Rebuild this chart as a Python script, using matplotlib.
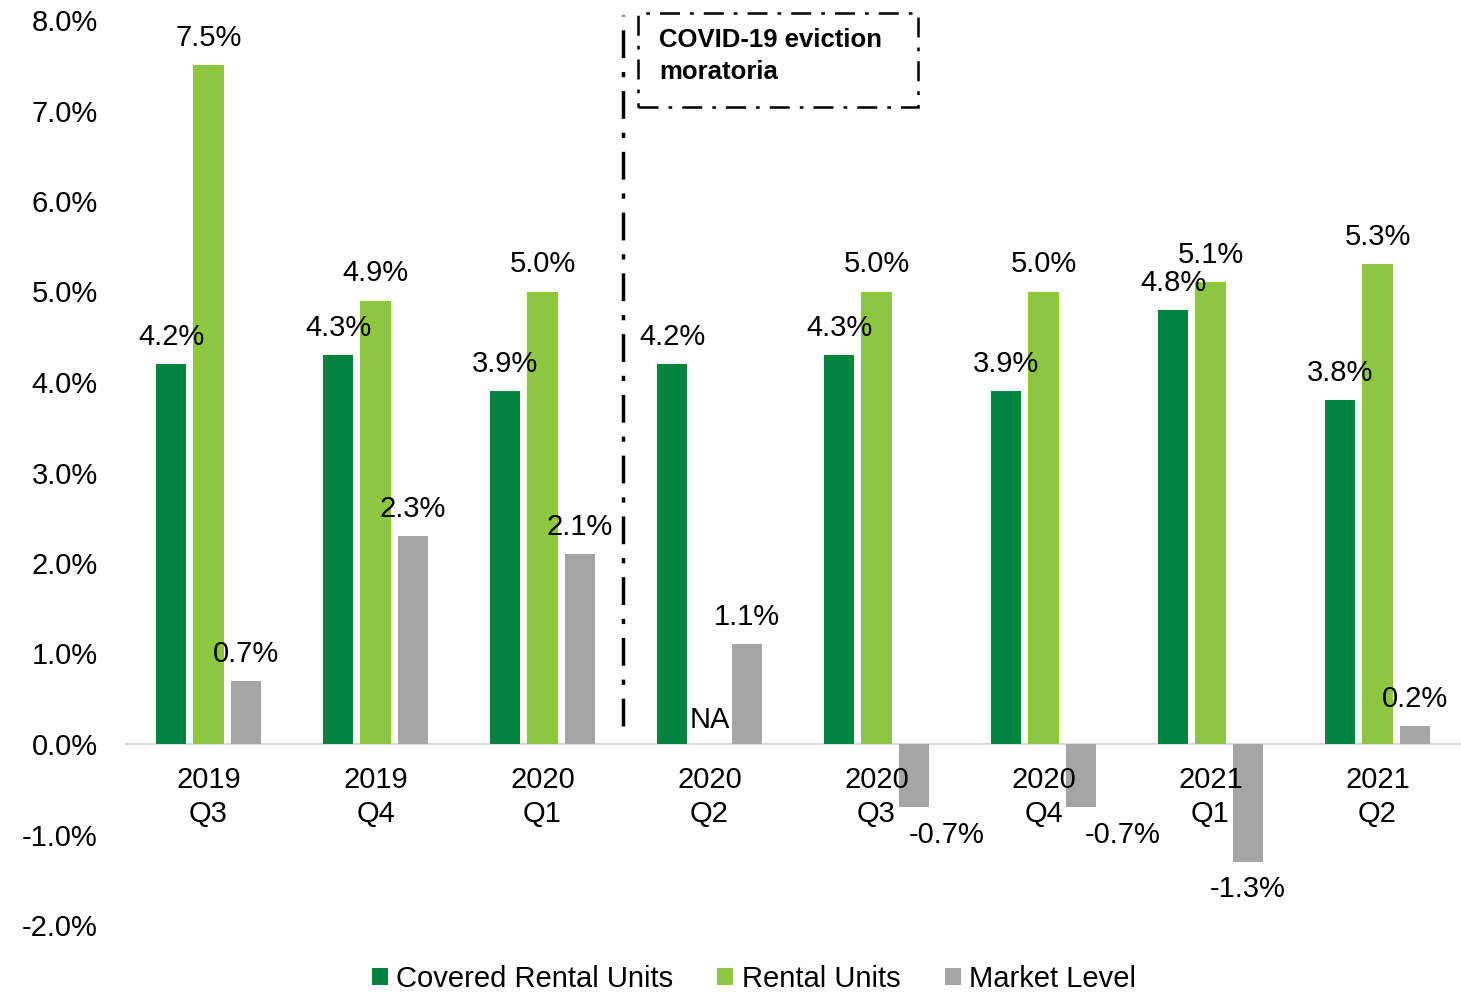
import matplotlib
matplotlib.use("Agg")
import matplotlib.pyplot as plt
from matplotlib.patches import Rectangle
import numpy as np

categories = ["2019\nQ3", "2019\nQ4", "2020\nQ1", "2020\nQ2", "2020\nQ3", "2020\nQ4", "2021\nQ1", "2021\nQ2"]
covered = [4.2, 4.3, 3.9, np.nan, 4.3, 3.9, 4.8, 3.8]
rental = [7.5, 4.9, 5.0, 4.2, 5.0, 5.0, 5.1, 5.3]
market = [0.7, 2.3, 2.1, 1.1, -0.7, -0.7, -1.3, 0.2]
series_names = ["Covered Rental Units", "Rental Units", "Market Level"]
colors = ["#00843D", "#8DC63F", "#A5A5A5"]

plt.rcParams['font.family'] = ['Liberation Sans', 'DejaVu Sans']

W, H = 1461, 992
fig = plt.figure(figsize=(W / 100, H / 100), dpi=100)
ax = fig.add_axes([125 / W, 1 - 925 / H, (1461 - 125) / W, (925 - 20) / H])

x = np.arange(len(categories))
bw = 0.18
off = 0.222

# For 2020 Q2 the dark green bar holds the 4.2% value and the light-green slot is NA
cov_plot = list(covered)
ren_plot = list(rental)
cov_plot[3] = rental[3]
ren_plot[3] = np.nan

ax.bar(x - off, cov_plot, bw, color=colors[0], label=series_names[0])
ax.bar(x, ren_plot, bw, color=colors[1], label=series_names[1])
ax.bar(x + off, market, bw, color=colors[2], label=series_names[2])

fs = 21
ax.set_xlim(-0.5, len(categories) - 0.5)
ax.set_ylim(-2, 8)
ax.set_yticks(np.arange(-2, 9, 1))
ax.set_yticklabels([f"{v:.1f}%" for v in np.arange(-2, 9, 1)], fontsize=fs)
ax.tick_params(axis='y', length=0, pad=19.5)
ax.set_xticks([])
for s in ax.spines.values():
    s.set_visible(False)
ax.axhline(0, color="#D9D9D9", lw=1.5, zorder=0)

def lab(xv, v, dx=0):
    dy = 19.5 if v >= 0 else -20
    ax.annotate(f"{v:.1f}%", (xv, v), xytext=(dx, dy), textcoords='offset points',
                ha='center', va='center', fontsize=fs)

neg_dx = [0, 0, 0, 0, 24, 30, 0, 0]
for i in range(len(categories)):
    if not np.isnan(cov_plot[i]):
        lab(x[i] - off, cov_plot[i])
    if not np.isnan(ren_plot[i]):
        lab(x[i], ren_plot[i])
    lab(x[i] + off, market[i], neg_dx[i])

ax.annotate("NA", (x[3], 0), xytext=(0, 17.5), textcoords='offset points',
            ha='center', va='center', fontsize=fs)

for i, c in enumerate(categories):
    ax.annotate(c, (x[i], 0), xytext=(0, -16), textcoords='offset points',
                ha='center', va='top', fontsize=fs, linespacing=1.25)

# eviction moratoria divider
dashdot = (0, (8, 4, 1.5, 4))
ax.plot([2.48, 2.48], [0.2, 8.05], color='black', lw=2.5, ls=dashdot, clip_on=False)
fig.patches.append(Rectangle((638 / W, 1 - 107 / H), 280 / W, 94 / H,
                             transform=fig.transFigure, fill=True, fc='white',
                             ec='black', lw=1.8, ls=dashdot))
fig.text(659 / W, 1 - 56 / H, "COVID-19 eviction\nmoratoria", fontsize=18.5,
         fontweight='bold', ha='left', va='center', linespacing=1.4)

fig.legend(loc='center', bbox_to_anchor=(754 / W, 1 - 979 / H), ncol=3, frameon=False,
           fontsize=fs, handlelength=0.55, handleheight=0.55, handletextpad=0.3,
           columnspacing=1.5)

fig.savefig("out.png", dpi=100)
